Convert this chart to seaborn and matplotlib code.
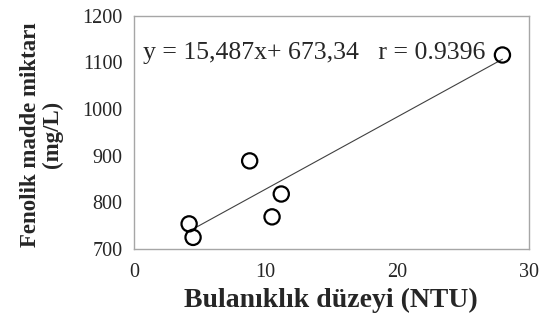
import numpy as np
import pandas as pd
import seaborn as sns
import matplotlib.pyplot as plt

# bulaniklik (NTU) vs fenolik madde (mg/L)
turbidity = [4.2, 4.5, 8.8, 10.5, 11.2, 28.0]
phenolic = [754, 725, 889, 769, 818, 1116]

slope = 15.487
intercept = 673.34
r_value = 0.9396

x_ticks = [0, 10, 20, 30]
y_ticks = [700, 800, 900, 1000, 1100, 1200]

sns.set_style("white")
plt.rcParams["font.family"] = ["Liberation Serif", "DejaVu Serif"]

df = pd.DataFrame({"ntu": turbidity, "fenol": phenolic})

fig = plt.figure(figsize=(5.44, 3.29), dpi=100)
ax = fig.add_axes([0.246, 0.243, 0.726, 0.709])

# trend line (min -> max x)
xs = np.array([min(turbidity), max(turbidity)])
ax.plot(xs, slope * xs + intercept, color="#404040", linewidth=0.8, zorder=1)

sns.scatterplot(data=df, x="ntu", y="fenol", ax=ax, s=120,
                facecolor="none", edgecolor="black", linewidth=1.6, zorder=2)

ax.set_xlim(0, 30)
ax.set_ylim(700, 1200)
ax.set_xticks(x_ticks)
ax.set_yticks(y_ticks)

for sp in ax.spines.values():
    sp.set_color("#a6a6a6")
    sp.set_linewidth(1.0)
ax.tick_params(axis="both", direction="out", length=4, width=1.0,
               color="#a6a6a6", labelsize=14.5, pad=4)
ax.tick_params(axis="x", pad=6)

ax.set_xlabel("Bulanıklık düzeyi (NTU)", fontsize=20, fontweight="bold", labelpad=4)
ax.set_ylabel("Fenolik madde miktarı\n(mg/L)", fontsize=16.5, fontweight="bold",
              linespacing=1.05)
ax.yaxis.set_label_coords(-0.18, 0.49)

ax.text(0.022, 0.84, f"y = 15,487x+ 673,34   r = {r_value}",
        transform=ax.transAxes, fontsize=18.5, va="center", ha="left")

fig.savefig("out.png", dpi=100)
